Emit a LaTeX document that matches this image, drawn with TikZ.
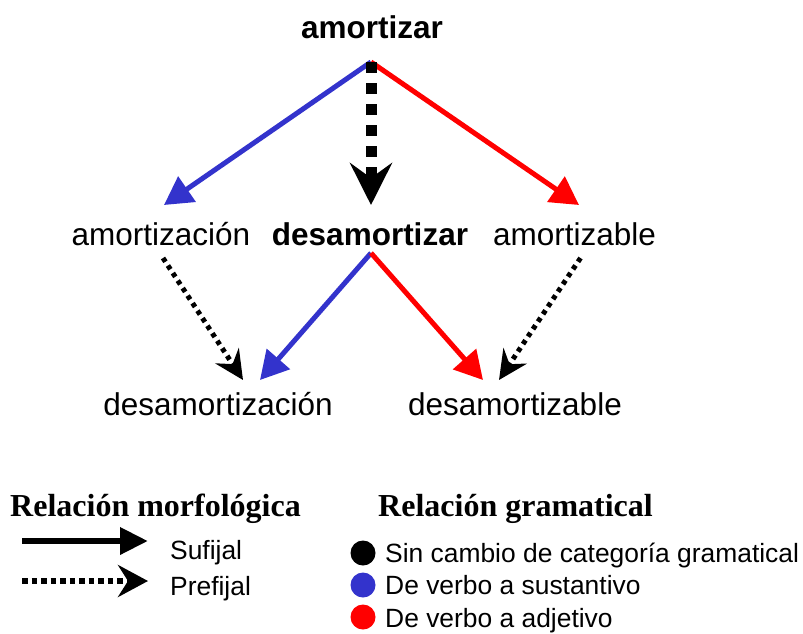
\documentclass[tikz,border=0pt]{standalone}
\usepackage{fontspec}
\setmainfont{Liberation Sans}
\newfontfamily\serifhead{Liberation Serif}
\usetikzlibrary{arrows.meta}
\definecolor{vblue}{HTML}{3333CC}
\definecolor{vred}{HTML}{FF0000}
\tikzset{
  word/.style={inner sep=0pt, anchor=base, font=\fontsize{31.5}{36}\selectfont},
  bword/.style={word, font=\fontsize{31.5}{36}\selectfont\bfseries},
  legtext/.style={inner sep=0pt, anchor=base west, font=\fontsize{26.4}{30}\selectfont},
  leghead/.style={inner sep=0pt, anchor=base west, font=\fontsize{32}{36}\selectfont\serifhead\bfseries},
  sufarrow/.style={line width=5pt, -{Triangle[length=28pt,width=30pt]}},
  bigdash/.style={line width=11pt, dash pattern=on 10.5pt off 10.5pt, -{Stealth[length=42pt,width=42pt,inset=15pt]}},
  dotarrow/.style={line width=5pt, dash pattern=on 4.5pt off 4.5pt, -{Stealth[length=29pt,width=28pt,inset=10pt]}},
  legsolid/.style={line width=6.5pt, -{Triangle[length=28pt,width=26pt]}},
  legdot/.style={line width=6pt, dash pattern=on 5.5pt off 4pt, -{Stealth[length=30pt,width=32pt,inset=10pt]}},
  legdot2/.style={circle, inner sep=0pt, minimum size=25pt},
}
\begin{document}
\begin{tikzpicture}[x=1pt,y=-1pt]
\useasboundingbox (0,0) rectangle (803,633);
% words
\node[bword] (amortizar) at (372,38) {amortizar};
\node[word] (amortizacion) at (161,245) {amortización};
\node[bword] (desamortizar) at (370,245) {desamortizar};
\node[word] (amortizable) at (574.5,245) {amortizable};
\node[word] (desamortizacion) at (218,415) {desamortización};
\node[word] (desamortizable) at (515,415) {desamortizable};
% first level
\draw[sufarrow, vblue] ([xshift=-1pt,yshift=-24pt]amortizar.base) -- ([xshift=3pt,yshift=40pt]amortizacion.base);
\draw[sufarrow, vred] ([xshift=-1pt,yshift=-24pt]amortizar.base) -- ([xshift=4.5pt,yshift=40pt]amortizable.base);
\draw[bigdash, black] ([xshift=-1pt,yshift=-24pt]amortizar.base) -- ([xshift=1pt,yshift=40pt]desamortizar.base);
% second level
\draw[sufarrow, vblue] ([xshift=1pt,yshift=-8pt]desamortizar.base) -- ([xshift=42pt,yshift=35pt]desamortizacion.base);
\draw[sufarrow, vred] ([xshift=1pt,yshift=-8pt]desamortizar.base) -- ([xshift=-32pt,yshift=35pt]desamortizable.base);
\draw[dotarrow, black] ([xshift=2pt,yshift=-13pt]amortizacion.base) -- ([xshift=25pt,yshift=35pt]desamortizacion.base);
\draw[dotarrow, black] ([xshift=6pt,yshift=-13pt]amortizable.base) -- ([xshift=-16pt,yshift=35pt]desamortizable.base);
% legend: morphology
\node[leghead] (hmorf) at (10,516) {Relación morfológica};
\coordinate (sufA) at (22,541);
\coordinate (sufB) at (148,541);
\coordinate (preA) at (22,581);
\coordinate (preB) at (148,581);
\draw[legsolid] (sufA) -- (sufB);
\draw[legdot] (preA) -- (preB);
\node[legtext] (tsuf) at (170,559) {Sufijal};
\node[legtext] (tpre) at (170,595) {Prefijal};
% legend: grammar
\node[leghead] (hgram) at (378,516) {Relación gramatical};
\node[legdot2, fill=black] (c1) at (363,553) {};
\node[legdot2, fill=vblue] (c2) at (363,585) {};
\node[legdot2, fill=vred] (c3) at (363,617) {};
\node[legtext] (t1) at (385,562) {Sin cambio de categoría gramatical};
\node[legtext] (t2) at (385,594) {De verbo a sustantivo};
\node[legtext] (t3) at (385,627) {De verbo a adjetivo};
\end{tikzpicture}
\end{document}
